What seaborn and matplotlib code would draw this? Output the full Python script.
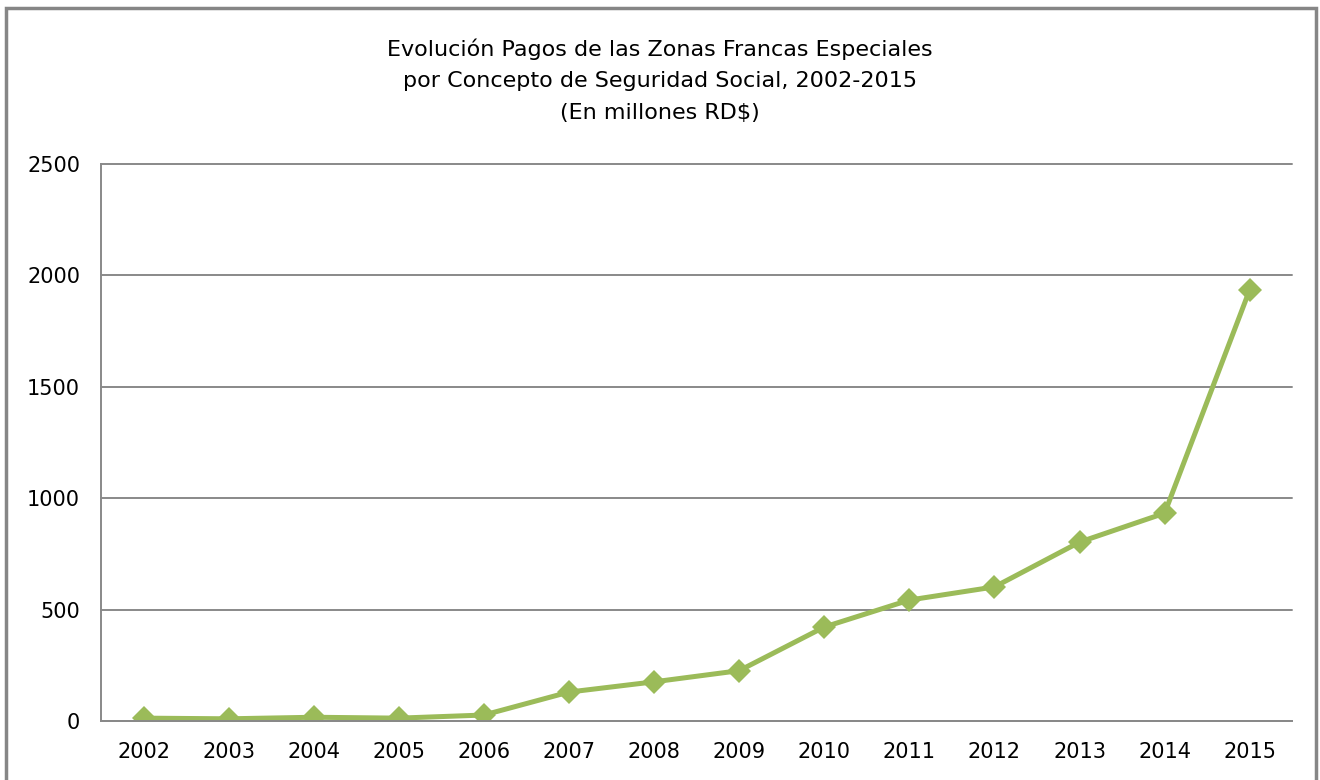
import numpy as np
import pandas as pd
import matplotlib.pyplot as plt
import seaborn as sns
from matplotlib.patches import Rectangle
from matplotlib.ticker import FixedLocator

# Chart data
years = ['2002', '2003', '2004', '2005', '2006', '2007', '2008',
         '2009', '2010', '2011', '2012', '2013', '2014', '2015']
payments = [13, 10, 17, 13, 27, 130, 176, 226, 422, 543, 602, 803, 933, 1936]
y_ticks = [0, 500, 1000, 1500, 2000, 2500]

title = ('Evolución Pagos de las Zonas Francas Especiales\n'
         'por Concepto de Seguridad Social, 2002-2015\n'
         '(En millones RD$)')

sns.set_theme(style='white')
plt.rcParams['font.family'] = ['DejaVu Sans']
plt.rcParams['text.color'] = 'black'
plt.rcParams['xtick.labelcolor'] = 'black'
plt.rcParams['ytick.labelcolor'] = 'black'

df = pd.DataFrame({'pos': np.arange(len(years)), 'value': payments})

fig = plt.figure(figsize=(13.2, 7.8), dpi=100)
ax = fig.add_axes([0.0765, 0.0756, 0.9025, 0.7141])

grid_color = '#898989'
ax.set_axisbelow(True)
ax.yaxis.grid(True, color=grid_color, linewidth=1.4)

sns.lineplot(data=df, x='pos', y='value', ax=ax, color='#9BBB59',
             linewidth=3.6, marker='D', markersize=12,
             markeredgecolor='#9BBB59', markeredgewidth=0)

ax.set_xlim(-0.5, len(years) - 0.5)
ax.set_ylim(0, 2500)
ax.set_yticks(y_ticks)
ax.set_yticklabels([str(t) for t in y_ticks], fontsize=15)
ax.set_xticks(df['pos'])
ax.set_xticklabels(years, fontsize=15)
ax.xaxis.set_minor_locator(FixedLocator(np.arange(-0.5, len(years), 1.0)))
ax.tick_params(axis='x', which='major', length=0, pad=15)
ax.tick_params(axis='x', which='minor', direction='out', length=8,
               width=1.4, color=grid_color)
ax.tick_params(axis='y', which='major', direction='out', length=6,
               width=1.4, color=grid_color, pad=9)
ax.set_xlabel('')
ax.set_ylabel('')
for gl in ax.get_ygridlines():
    gl.set_clip_on(False)

sns.despine(ax=ax, top=True, right=True)
for side in ['left', 'bottom']:
    ax.spines[side].set_color(grid_color)
    ax.spines[side].set_linewidth(1.4)

fig.text(0.5, 0.897, title, ha='center', va='center', fontsize=16,
         linespacing=1.72)

# outer chart border
fig.patches.append(Rectangle((0.0045, -0.05), 0.9925, 1.04,
                             transform=fig.transFigure, fill=False,
                             edgecolor='#868686', linewidth=2.5))

fig.savefig('out.png', dpi=100)
